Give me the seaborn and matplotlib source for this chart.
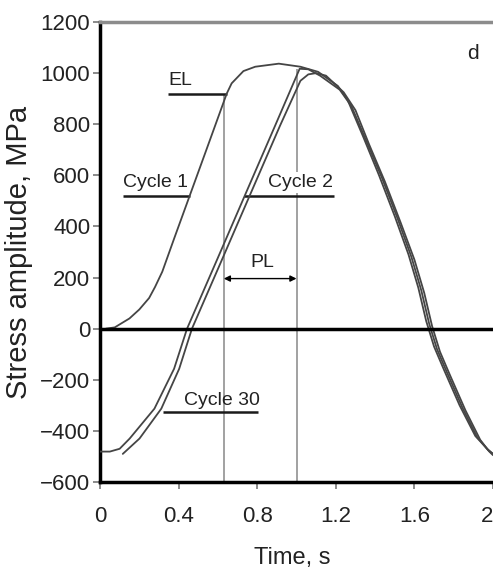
import matplotlib
matplotlib.use("Agg")
import matplotlib.pyplot as plt
import seaborn as sns

# stress curves (time in s, stress in MPa)
t_cycle1 = [0.03, 0.075, 0.15, 0.20, 0.25, 0.28, 0.317, 0.377, 0.463, 0.54, 0.645, 0.67,
            0.73, 0.79, 0.91, 1.02, 1.11, 1.21, 1.26, 1.34, 1.42, 1.50, 1.57, 1.62, 1.66,
            1.70, 1.75, 1.83, 1.91, 1.97, 2.0]
s_cycle1 = [0, 5, 40, 75, 120, 163, 223, 352, 534, 697, 920, 960,
            1008, 1025, 1037, 1025, 1005, 950, 895, 750, 600, 440, 290, 160, 30,
            -70, -160, -300, -420, -470, -490]

t_cycle2 = [0.0, 0.05, 0.10, 0.151, 0.277, 0.377, 0.443, 0.598, 0.741, 0.891, 1.016,
            1.06, 1.12, 1.22, 1.28, 1.355, 1.435, 1.515, 1.585, 1.635, 1.675, 1.715, 1.765,
            1.845, 1.92, 1.975, 2.0]
s_cycle2 = [-481, -481, -470, -430, -313, -157, 0, 274, 528, 794, 1017,
            1015, 990, 935, 870, 735, 590, 430, 280, 150, 20, -80, -170,
            -310, -425, -475, -490]

t_cycle30 = [0.116, 0.201, 0.312, 0.403, 0.468, 0.623, 0.766, 0.916, 1.02, 1.06, 1.10,
             1.15, 1.24, 1.30, 1.37, 1.45, 1.53, 1.60, 1.65, 1.69, 1.73, 1.78, 1.86,
             1.935, 1.98, 2.0]
s_cycle30 = [-490, -430, -313, -157, 0, 274, 528, 794, 970, 995, 1000,
             990, 925, 855, 720, 575, 415, 270, 140, 10, -90, -180, -320,
             -435, -480, -495]

x_ticks = [0, 0.4, 0.8, 1.2, 1.6, 2.0]
x_ticklabels = ["0", "0.4", "0.8", "1.2", "1.6", "2"]
y_ticks = [-600, -400, -200, 0, 200, 400, 600, 800, 1000, 1200]

sns.set_style("ticks")
plt.rcParams['font.family'] = ['Liberation Sans', 'DejaVu Sans']

fig = plt.figure(figsize=(4.93, 5.75), dpi=100)
ax = fig.add_axes([100 / 493, 93 / 575, 393 / 493, 460 / 575])

curve_color = '#454545'
for t, s in [(t_cycle1, s_cycle1), (t_cycle2, s_cycle2), (t_cycle30, s_cycle30)]:
    sns.lineplot(x=t, y=s, ax=ax, color=curve_color, lw=1.3, sort=False,
                 estimator=None, zorder=5)

# zero line
ax.axhline(0, color='black', lw=2.5, zorder=6)

# EL / PL guide lines
ax.vlines(0.63, -600, 920, color='#9a9a9a', lw=1.3, zorder=2)
ax.vlines(1.0, -600, 1015, color='#9a9a9a', lw=1.3, zorder=2)
ax.annotate('', xy=(1.0, 196), xytext=(0.63, 196),
            arrowprops=dict(arrowstyle='<|-|>', color='black', lw=1.0,
                            mutation_scale=9, shrinkA=0, shrinkB=0), zorder=4)

# label leader lines
lbl_kw = dict(color='#1a1a1a', lw=1.8, zorder=4)
ax.hlines(920, 0.347, 0.645, **lbl_kw)
ax.hlines(520, 0.116, 0.46, **lbl_kw)
ax.hlines(520, 0.735, 1.19, **lbl_kw)
ax.hlines(-325, 0.32, 0.805, **lbl_kw)

txt_kw = dict(fontsize=14, color='#222222', va='baseline', ha='left')
ax.text(0.35, 955, "EL", **txt_kw)
ax.text(0.116, 555, "Cycle 1", **txt_kw)
ax.text(0.855, 555, "Cycle 2", zorder=3,
        bbox=dict(facecolor='white', edgecolor='none', pad=1.5), **txt_kw)
ax.text(0.428, -297, "Cycle 30", **txt_kw)
ax.text(0.765, 243, "PL", **txt_kw)
ax.text(1.87, 1056, "d", fontsize=15, color='#222222', va='baseline', ha='left')

ax.set_xlim(0, 2.0)
ax.set_ylim(-600, 1200)
ax.set_xticks(x_ticks)
ax.set_xticklabels(x_ticklabels)
ax.set_yticks(y_ticks)

ax.tick_params(axis='both', direction='out', length=5, width=1.2, color='#777777',
               labelsize=16, labelcolor='#222222')
ax.tick_params(axis='x', pad=12)
ax.tick_params(axis='y', pad=2)
ax.get_xticklabels()[-1].set_horizontalalignment('right')

ax.set_xlabel("Time, s", fontsize=17, color='#222222')
ax.set_ylabel("Stress amplitude, MPa", fontsize=21, color='#222222')
ax.xaxis.set_label_coords(0.49, -0.141)
ax.yaxis.set_label_coords(-0.17, 0.5)

for side in ['left', 'bottom']:
    ax.spines[side].set_color('black')
    ax.spines[side].set_linewidth(2.5)
ax.spines['top'].set_color('#8c8c8c')
ax.spines['top'].set_linewidth(2.5)
ax.spines['right'].set_visible(False)

fig.savefig("out.png", dpi=100, facecolor='white')
plt.close(fig)
